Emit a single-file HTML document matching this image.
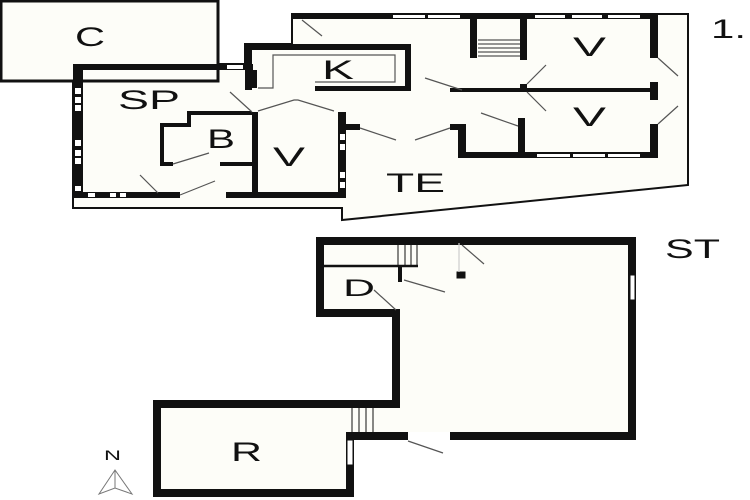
<!DOCTYPE html>
<html><head><style>
html,body{margin:0;padding:0;background:#fff}
svg{display:block}
text{font-family:"Liberation Sans",sans-serif;fill:#111}
</style></head><body>
<svg width="750" height="500" viewBox="0 0 750 500" xmlns="http://www.w3.org/2000/svg">
<g fill="#fdfdf8" stroke="#111">
<polygon points="73,64 73,208 342,208 342,220 688,185 688,14 292,14 292,44 245,44 245,64" stroke-width="2"/>
<rect x="1" y="1" width="217" height="80" stroke-width="3"/>
</g>
<g fill="#111" stroke="none">
<rect x="73" y="64" width="180" height="6"/>
<rect x="73" y="64" width="10" height="134"/>
<rect x="73" y="192" width="107" height="6"/>
<rect x="226" y="192" width="120" height="6"/>
<rect x="252" y="70" width="5" height="18"/>
<rect x="252" y="112" width="6" height="81"/>
<rect x="338" y="112" width="8" height="86"/>
<rect x="338" y="124" width="22" height="6"/>
<rect x="245" y="44" width="7" height="46"/>
<rect x="245" y="44" width="165" height="6"/>
<rect x="405" y="44" width="6" height="47"/>
<rect x="315" y="86" width="96" height="5"/>
<rect x="292" y="13" width="366" height="6"/>
<rect x="470" y="19" width="7" height="39"/>
<rect x="520" y="19" width="7" height="41"/>
<rect x="520" y="84" width="7" height="8"/>
<rect x="518" y="118" width="7" height="37"/>
<rect x="450" y="88" width="206" height="4"/>
<rect x="650" y="13" width="8" height="45"/>
<rect x="650" y="82" width="8" height="18"/>
<rect x="650" y="124" width="8" height="34"/>
<rect x="458" y="152" width="200" height="6"/>
<rect x="458" y="124" width="8" height="34"/>
<rect x="450" y="124" width="16" height="6"/>
</g>
<g fill="#fff" stroke="none">
<rect x="393" y="15" width="32" height="3"/><rect x="428" y="15" width="32" height="3"/>
<rect x="535" y="15" width="30" height="3"/><rect x="572" y="15" width="30" height="3"/><rect x="608" y="15" width="32" height="3"/>
<rect x="537" y="154" width="33" height="3"/><rect x="573" y="154" width="32" height="3"/><rect x="608" y="154" width="32" height="3"/>
<rect x="75" y="88" width="6" height="6"/><rect x="75" y="97" width="6" height="6"/><rect x="75" y="105" width="6" height="6"/>
<rect x="75" y="140" width="6" height="6"/><rect x="75" y="150" width="6" height="6"/><rect x="75" y="158" width="6" height="6"/>
<rect x="75" y="186" width="6" height="5"/>
<rect x="88" y="193" width="7" height="4"/><rect x="110" y="193" width="6" height="4"/><rect x="120" y="193" width="6" height="4"/>
<rect x="340" y="134" width="5" height="6"/><rect x="340" y="144" width="5" height="6"/><rect x="340" y="172" width="5" height="6"/><rect x="340" y="182" width="5" height="6"/>
<rect x="227" y="65" width="16" height="4"/>
</g>
<polyline points="252,113 189,113 189,125 162,125 162,164 173,164" fill="none" stroke="#111" stroke-width="4"/>
<line x1="220" y1="164" x2="252" y2="164" stroke="#111" stroke-width="4"/>
<g stroke="#555" stroke-width="1.2" fill="none">
<polyline points="258,88 273,88 273,55 395,55 395,82 315,82"/>
<line x1="173" y1="164" x2="209" y2="153"/>
<line x1="180" y1="195" x2="215" y2="181"/>
<line x1="140" y1="175" x2="158" y2="193"/>
<line x1="230" y1="92" x2="252" y2="112"/>
<polyline points="258,111 294,100 298,100 334,111"/>
<line x1="302" y1="20" x2="322" y2="36"/>
<line x1="425" y1="78" x2="462" y2="90"/>
<line x1="481" y1="113" x2="518" y2="126"/>
<line x1="360" y1="128" x2="396" y2="140"/>
<line x1="415" y1="140" x2="450" y2="128"/>
<line x1="527" y1="84" x2="546" y2="65"/>
<line x1="527" y1="92" x2="546" y2="111"/>
<line x1="658" y1="58" x2="678" y2="76"/>
<line x1="658" y1="124" x2="678" y2="106"/>
<line x1="478" y1="40" x2="520" y2="40"/><line x1="478" y1="44" x2="520" y2="44"/><line x1="478" y1="48" x2="520" y2="48"/><line x1="478" y1="52" x2="520" y2="52"/><line x1="478" y1="56" x2="520" y2="56"/>
</g>
<polygon points="320,241 632,241 632,436 350,436 350,493 157,493 157,404 396,404 396,313 320,313" fill="#fdfdf8" stroke="#111" stroke-width="8"/>
<rect x="408" y="432" width="42" height="8" fill="#fff"/>
<rect x="347" y="440" width="6" height="25" fill="#fff" stroke="#111"/>
<rect x="630" y="275" width="5" height="25" fill="#fff" stroke="#111"/>
<g stroke="#111" fill="none">
<line x1="320" y1="266" x2="418" y2="266" stroke-width="2.5"/>
<line x1="400" y1="266" x2="400" y2="282" stroke-width="4"/>
<line x1="398" y1="243" x2="398" y2="266"/><line x1="405" y1="243" x2="405" y2="266"/><line x1="411" y1="243" x2="411" y2="266"/><line x1="417" y1="243" x2="417" y2="266"/>
<line x1="352" y1="408" x2="352" y2="432"/><line x1="359" y1="408" x2="359" y2="432"/><line x1="366" y1="408" x2="366" y2="432"/><line x1="373" y1="408" x2="373" y2="432"/>
<rect x="457" y="272" width="8" height="6" fill="#111"/>
</g>
<g stroke="#555" stroke-width="1.2">
<line x1="462" y1="245" x2="484" y2="264"/>
<line x1="404" y1="280" x2="445" y2="292"/>
<line x1="374" y1="290" x2="396" y2="310"/>
<line x1="408" y1="441" x2="443" y2="453"/>
<line x1="459" y1="243" x2="459" y2="272" stroke="#ccc"/>
</g>
<g stroke="#777" stroke-width="1" fill="none">
<polygon points="115,470 99,494 115,488 132,494"/>
<line x1="115" y1="470" x2="115" y2="488"/>
</g>
<g font-size="27" lengthAdjust="spacingAndGlyphs">
<text x="75" y="46" textLength="30" lengthAdjust="spacingAndGlyphs">C</text>
<text x="118" y="109" textLength="62" lengthAdjust="spacingAndGlyphs">SP</text>
<text x="207" y="148" textLength="28" lengthAdjust="spacingAndGlyphs">B</text>
<text x="273" y="166" textLength="32" lengthAdjust="spacingAndGlyphs">V</text>
<text x="322" y="79" textLength="32" lengthAdjust="spacingAndGlyphs">K</text>
<text x="573" y="56" textLength="33" lengthAdjust="spacingAndGlyphs">V</text>
<text x="573" y="126" textLength="33" lengthAdjust="spacingAndGlyphs">V</text>
<text x="386" y="192" textLength="59" lengthAdjust="spacingAndGlyphs">TE</text>
<text x="711" y="38" textLength="35" lengthAdjust="spacingAndGlyphs">1.</text>
<text x="665" y="258" textLength="55" lengthAdjust="spacingAndGlyphs">ST</text>
<text x="343" y="296" font-size="24" textLength="32" lengthAdjust="spacingAndGlyphs">D</text>
<text x="231" y="461" textLength="31" lengthAdjust="spacingAndGlyphs">R</text>
<text x="104" y="460" font-size="14" textLength="17" lengthAdjust="spacingAndGlyphs">N</text>
</g>
</svg>
</body></html>
